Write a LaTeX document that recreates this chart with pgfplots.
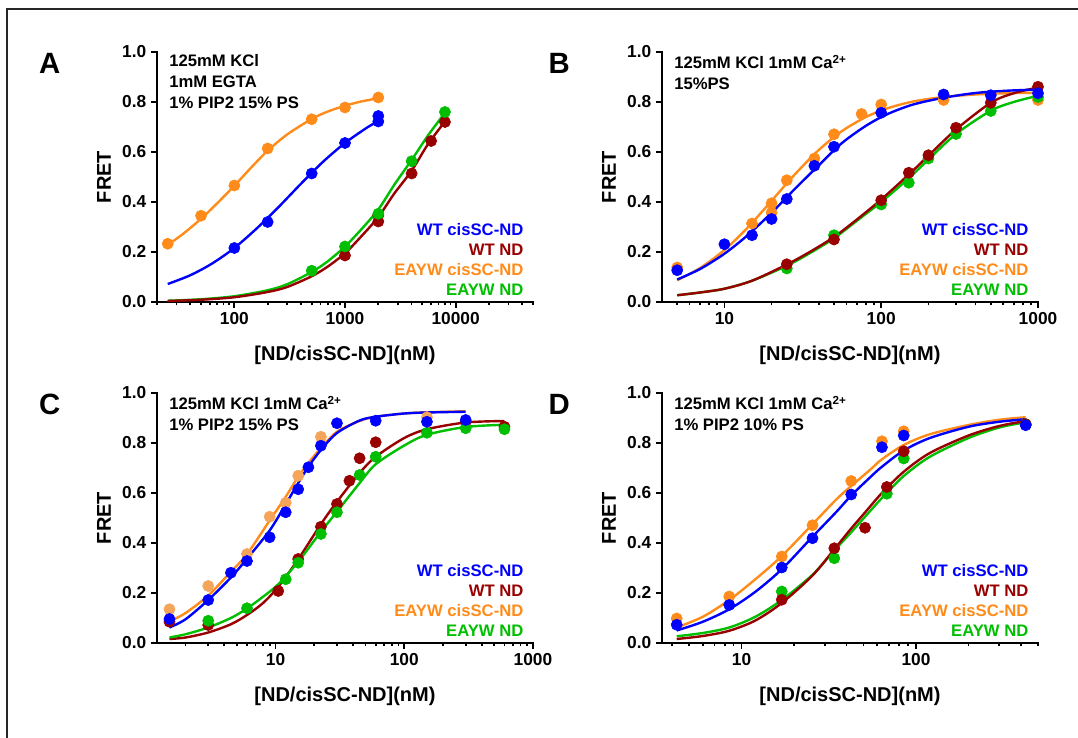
\documentclass[border=0pt]{standalone}
\usepackage{pgfplots}
\pgfplotsset{compat=1.18}
\usepackage{fontspec}
\setmainfont{Liberation Sans}
\definecolor{cblue}{RGB}{0,0,255}
\definecolor{cred}{RGB}{153,0,0}
\definecolor{corange}{RGB}{255,140,26}
\definecolor{corangel}{RGB}{245,165,90}
\definecolor{cgreen}{RGB}{0,190,0}
\pgfplotsset{
  mycurve/.style={no marks, smooth, tension=0.5, line width=1.8pt},
  mydots/.style={only marks, mark=*, mark size=4.2pt},
}
\tikzset{
  lettr/.style={font=\fontsize{22}{26}\selectfont\bfseries, anchor=base},
  annot/.style={anchor=north west, inner sep=0pt, align=left, font=\fontsize{12.5}{15.4}\selectfont\bfseries, xshift=9pt, yshift=-2pt},
  legd/.style={anchor=south east, inner sep=0pt, align=right, font=\fontsize{12.5}{14.85}\selectfont\bfseries, xshift=-7pt, yshift=5pt},
}
\newcommand{\legtext}{\textcolor{cblue}{WT cisSC-ND}\\\textcolor{cred}{WT ND}\\\textcolor{corange}{EAYW cisSC-ND}\\\textcolor{cgreen}{EAYW ND}}
\begin{document}
\begin{tikzpicture}
\useasboundingbox (0,0) rectangle (808.5pt,553.5pt);
\draw[line width=0.8pt, black!85] (5.25pt,-2pt) -- (5.25pt,546.75pt) -- (812pt,546.75pt);

% ---------------- A ----------------
\begin{axis}[xmode=log, scale only axis, width=282pt, height=187.5pt, ymin=0, ymax=1,
  ytick={0,0.2,0.4,0.6,0.8,1}, yticklabels={0.0,0.2,0.4,0.6,0.8,1.0},
  axis x line*=bottom, axis y line*=left,
  axis line style={line width=1.9pt, line cap=rect},
  tick align=outside, major tick length=4.5pt, minor tick length=2.6pt,
  tick style={black, line width=1.3pt},
  ticklabel style={font=\fontsize{13}{15}\selectfont\bfseries},
  clip=false, ylabel={FRET}, xlabel={{[ND/cisSC-ND](nM)}},
  label style={font=\fontsize{15}{18}\selectfont\bfseries},
  ylabel style={at={(axis description cs:0,0.5)}, anchor=center, yshift=39.75pt},
  xlabel style={at={(axis description cs:0.5,0)}, anchor=base, yshift=-44.25pt},
  at={(117.75pt,327pt)}, anchor=south west,
  xmin=20, xmax=50000, xtick={100,1000,10000}, xticklabels={100,1000,10000},
  minor xtick={20,30,40,50,60,70,80,90,200,300,400,500,600,700,800,900,2000,3000,4000,5000,6000,7000,8000,9000,20000,30000,40000,50000}]
\addplot[mycurve, corange] coordinates {(25,0.228)(35,0.275)(50,0.333)(70,0.395)(100,0.465)(140,0.535)(200,0.605)(300,0.670)(500,0.732)(700,0.762)(1000,0.785)(1400,0.802)(2000,0.815)};
\addplot[mycurve, cgreen] coordinates {(25,0.005)(50,0.011)(100,0.023)(200,0.047)(300,0.071)(500,0.120)(700,0.163)(1000,0.222)(1400,0.290)(2000,0.370)(2800,0.470)(4000,0.568)(5600,0.665)(8000,0.757)};
\addplot[mycurve, cred] coordinates {(25,0.004)(50,0.009)(100,0.019)(200,0.040)(300,0.060)(500,0.103)(700,0.142)(1000,0.195)(1400,0.262)(2000,0.340)(2800,0.435)(4000,0.525)(5600,0.630)(8000,0.722)};
\addplot[mycurve, cblue] coordinates {(25,0.072)(40,0.107)(63,0.154)(100,0.216)(160,0.295)(250,0.379)(400,0.473)(630,0.560)(1000,0.636)(1600,0.699)(2000,0.723)};
\addplot[mydots, corange] coordinates {(25,0.233)(50,0.345)(100,0.466)(200,0.614)(500,0.731)(1000,0.778)(2000,0.818)};
\addplot[mydots, cred] coordinates {(1000,0.186)(2000,0.347)(2000,0.322)(4000,0.514)(6000,0.644)(8000,0.72)};
\addplot[mydots, cgreen] coordinates {(500,0.125)(1000,0.222)(2000,0.353)(4000,0.563)(8000,0.760)};
\addplot[mydots, cblue] coordinates {(100,0.216)(200,0.32)(500,0.514)(1000,0.636)(2000,0.744)(2000,0.722)};
\node[lettr, xshift=-80.5pt, yshift=-16.5pt] at (axis description cs:0,1) {A};
\node[annot] at (axis description cs:0,1) {125mM KCl\\1mM EGTA\\1\% PIP2 15\% PS};
\node[legd] at (axis description cs:1,0) {\legtext};
\end{axis}

% ---------------- B ----------------
\begin{axis}[xmode=log, scale only axis, width=282pt, height=187.5pt, ymin=0, ymax=1,
  ytick={0,0.2,0.4,0.6,0.8,1}, yticklabels={0.0,0.2,0.4,0.6,0.8,1.0},
  axis x line*=bottom, axis y line*=left,
  axis line style={line width=1.9pt, line cap=rect},
  tick align=outside, major tick length=4.5pt, minor tick length=2.6pt,
  tick style={black, line width=1.3pt},
  ticklabel style={font=\fontsize{13}{15}\selectfont\bfseries},
  clip=false, ylabel={FRET}, xlabel={{[ND/cisSC-ND](nM)}},
  label style={font=\fontsize{15}{18}\selectfont\bfseries},
  ylabel style={at={(axis description cs:0,0.5)}, anchor=center, yshift=39.75pt},
  xlabel style={at={(axis description cs:0.5,0)}, anchor=base, yshift=-44.25pt},
  at={(496.5pt,327pt)}, anchor=south west,
  xmin=4, xmax=1000, xtick={10,100,1000}, xticklabels={10,100,1000},
  minor xtick={5,6,7,8,9,20,30,40,50,60,70,80,90,200,300,400,500,600,700,800,900}]
\addplot[mycurve, corange] coordinates {(5,0.087)(7,0.136)(10,0.208)(14,0.296)(20,0.405)(28,0.509)(40,0.608)(56,0.683)(80,0.740)(110,0.775)(160,0.802)(250,0.820)(400,0.830)(630,0.835)(1000,0.837)};
\addplot[mycurve, cgreen] coordinates {(5,0.027)(7,0.038)(10,0.053)(15,0.085)(25,0.145)(35,0.195)(50,0.255)(70,0.325)(100,0.400)(150,0.495)(200,0.570)(300,0.672)(500,0.765)(700,0.800)(1000,0.825)};
\addplot[mycurve, cred] coordinates {(5,0.027)(7,0.038)(10,0.053)(15,0.085)(25,0.150)(35,0.200)(50,0.260)(70,0.330)(100,0.410)(150,0.510)(200,0.585)(300,0.690)(500,0.797)(700,0.835)(1000,0.858)};
\addplot[mycurve, cblue] coordinates {(5,0.090)(7,0.132)(10,0.193)(14,0.266)(20,0.357)(28,0.451)(40,0.547)(56,0.635)(80,0.705)(110,0.752)(160,0.790)(250,0.817)(400,0.836)(630,0.845)(1000,0.850)};
\addplot[mydots, corange] coordinates {(5,0.138)(15,0.314)(20,0.395)(20,0.357)(25,0.487)(37.5,0.574)(50,0.671)(75,0.752)(100,0.79)(250,0.808)(1000,0.808)};
\addplot[mydots, cgreen] coordinates {(25,0.134)(50,0.267)(100,0.39)(150,0.477)(200,0.574)(300,0.672)(500,0.764)(1000,0.82)};
\addplot[mydots, cred] coordinates {(25,0.151)(50,0.25)(100,0.407)(150,0.517)(200,0.587)(300,0.697)(500,0.797)(1000,0.861)};
\addplot[mydots, cblue] coordinates {(5,0.127)(10,0.231)(15,0.267)(20,0.332)(25,0.412)(37.5,0.545)(50,0.621)(100,0.757)(250,0.83)(500,0.827)(1000,0.835)};
\node[lettr, xshift=-77pt, yshift=-16.5pt] at (axis description cs:0,1) {B};
\node[annot] at (axis description cs:0,1) {125mM KCl 1mM Ca\textsuperscript{2+}\\15\%PS};
\node[legd] at (axis description cs:1,0) {\legtext};
\end{axis}

% ---------------- C ----------------
\begin{axis}[xmode=log, scale only axis, width=282pt, height=187.5pt, ymin=0, ymax=1,
  ytick={0,0.2,0.4,0.6,0.8,1}, yticklabels={0.0,0.2,0.4,0.6,0.8,1.0},
  axis x line*=bottom, axis y line*=left,
  axis line style={line width=1.9pt, line cap=rect},
  tick align=outside, major tick length=4.5pt, minor tick length=2.6pt,
  tick style={black, line width=1.3pt},
  ticklabel style={font=\fontsize{13}{15}\selectfont\bfseries},
  clip=false, ylabel={FRET}, xlabel={{[ND/cisSC-ND](nM)}},
  label style={font=\fontsize{15}{18}\selectfont\bfseries},
  ylabel style={at={(axis description cs:0,0.5)}, anchor=center, yshift=39.75pt},
  xlabel style={at={(axis description cs:0.5,0)}, anchor=base, yshift=-44.25pt},
  at={(117.75pt,71.25pt)}, anchor=south west,
  xmin=1.2, xmax=1000, xtick={10,100,1000}, xticklabels={10,100,1000},
  minor xtick={2,3,4,5,6,7,8,9,20,30,40,50,60,70,80,90,200,300,400,500,600,700,800,900}]
\addplot[mycurve, corange] coordinates {(1.5,0.086)(2,0.12)(3,0.19)(4.5,0.285)(6,0.355)(9,0.49)(12,0.585)(15,0.665)(18,0.72)(22.5,0.78)(30,0.845)(45,0.888)(60,0.905)(100,0.918)(150,0.923)(300,0.927)};
\addplot[mycurve, cred] coordinates {(1.5,0.016)(2,0.022)(3,0.042)(4.5,0.075)(6,0.112)(8,0.16)(10.5,0.225)(15,0.335)(22.5,0.475)(30,0.565)(45,0.68)(60,0.745)(100,0.82)(150,0.855)(300,0.882)(600,0.888)};
\addplot[mycurve, cgreen] coordinates {(1.5,0.022)(2,0.035)(3,0.062)(4.5,0.1)(6,0.138)(8,0.185)(10.5,0.235)(15,0.325)(22.5,0.445)(30,0.525)(45,0.64)(60,0.715)(100,0.79)(150,0.833)(300,0.864)(600,0.873)};
\addplot[mycurve, cblue] coordinates {(1.5,0.062)(2,0.095)(3,0.172)(4.5,0.262)(6,0.337)(9,0.45)(12,0.555)(15,0.64)(18,0.705)(22.5,0.772)(30,0.84)(45,0.89)(60,0.905)(100,0.918)(150,0.922)(300,0.925)};
\addplot[mydots, corangel] coordinates {(1.5,0.135)(3,0.228)(6,0.356)(9,0.505)(12,0.561)(15,0.669)(22.5,0.825)(150,0.903)};
\addplot[mydots, cred] coordinates {(1.5,0.085)(3,0.072)(10.5,0.208)(15,0.336)(22.5,0.465)(30,0.556)(37.5,0.649)(45,0.739)(60,0.803)(300,0.885)(600,0.865)};
\addplot[mydots, cgreen] coordinates {(3,0.089)(6,0.139)(12,0.255)(15,0.321)(22.5,0.436)(30,0.523)(45,0.672)(60,0.745)(150,0.841)(300,0.859)(600,0.855)};
\addplot[mydots, cblue] coordinates {(1.5,0.096)(3,0.172)(4.5,0.281)(6,0.328)(9,0.423)(12,0.523)(15,0.615)(18,0.703)(22.5,0.789)(30,0.879)(60,0.889)(150,0.885)(300,0.892)};
\node[lettr, xshift=-80.5pt, yshift=-16.5pt] at (axis description cs:0,1) {C};
\node[annot] at (axis description cs:0,1) {125mM KCl 1mM Ca\textsuperscript{2+}\\1\% PIP2 15\% PS};
\node[legd] at (axis description cs:1,0) {\legtext};
\end{axis}

% ---------------- D ----------------
\begin{axis}[xmode=log, scale only axis, width=282pt, height=187.5pt, ymin=0, ymax=1,
  ytick={0,0.2,0.4,0.6,0.8,1}, yticklabels={0.0,0.2,0.4,0.6,0.8,1.0},
  axis x line*=bottom, axis y line*=left,
  axis line style={line width=1.9pt, line cap=rect},
  tick align=outside, major tick length=4.5pt, minor tick length=2.6pt,
  tick style={black, line width=1.3pt},
  ticklabel style={font=\fontsize{13}{15}\selectfont\bfseries},
  clip=false, ylabel={FRET}, xlabel={{[ND/cisSC-ND](nM)}},
  label style={font=\fontsize{15}{18}\selectfont\bfseries},
  ylabel style={at={(axis description cs:0,0.5)}, anchor=center, yshift=39.75pt},
  xlabel style={at={(axis description cs:0.5,0)}, anchor=base, yshift=-44.25pt},
  at={(496.5pt,71.25pt)}, anchor=south west,
  xmin=3.5, xmax=500, xtick={10,100}, xticklabels={10,100},
  minor xtick={4,5,6,7,8,9,20,30,40,50,60,70,80,90,200,300,400,500}]
\addplot[mycurve, corange] coordinates {(4.25,0.062)(6,0.105)(8.5,0.172)(12,0.255)(17,0.348)(25.5,0.475)(35,0.575)(42.5,0.628)(55,0.695)(63.75,0.735)(85,0.792)(120,0.835)(200,0.872)(300,0.893)(425,0.903)};
\addplot[mycurve, cgreen] coordinates {(4.25,0.027)(6,0.04)(8.5,0.062)(12,0.105)(17,0.172)(25.5,0.273)(34,0.37)(42.5,0.443)(51,0.505)(63.75,0.58)(85,0.668)(120,0.745)(200,0.82)(300,0.862)(425,0.883)};
\addplot[mycurve, cred] coordinates {(4.25,0.016)(6,0.028)(8.5,0.049)(12,0.09)(17,0.16)(25.5,0.27)(34,0.375)(42.5,0.458)(51,0.522)(63.75,0.6)(85,0.685)(120,0.76)(200,0.83)(300,0.868)(425,0.888)};
\addplot[mycurve, cblue] coordinates {(4.25,0.05)(6,0.085)(8.5,0.135)(12,0.205)(17,0.295)(25.5,0.425)(35,0.525)(42.5,0.59)(55,0.665)(63.75,0.705)(85,0.77)(120,0.82)(200,0.865)(300,0.885)(425,0.895)};
\addplot[mydots, corange] coordinates {(4.25,0.098)(8.5,0.186)(17,0.346)(25.5,0.471)(42.5,0.648)(63.75,0.807)(85,0.847)(425,0.875)};
\addplot[mydots, cgreen] coordinates {(17,0.206)(34,0.339)(68,0.597)(85,0.738)(425,0.875)};
\addplot[mydots, cred] coordinates {(17,0.173)(34,0.379)(51,0.461)(68,0.624)(85,0.767)(425,0.875)};
\addplot[mydots, cblue] coordinates {(4.25,0.073)(8.5,0.152)(17,0.302)(25.5,0.419)(42.5,0.594)(63.75,0.783)(85,0.83)(425,0.871)};
\node[lettr, xshift=-77pt, yshift=-16.5pt] at (axis description cs:0,1) {D};
\node[annot] at (axis description cs:0,1) {125mM KCl 1mM Ca\textsuperscript{2+}\\1\% PIP2 10\% PS};
\node[legd] at (axis description cs:1,0) {\legtext};
\end{axis}
\end{tikzpicture}
\end{document}
